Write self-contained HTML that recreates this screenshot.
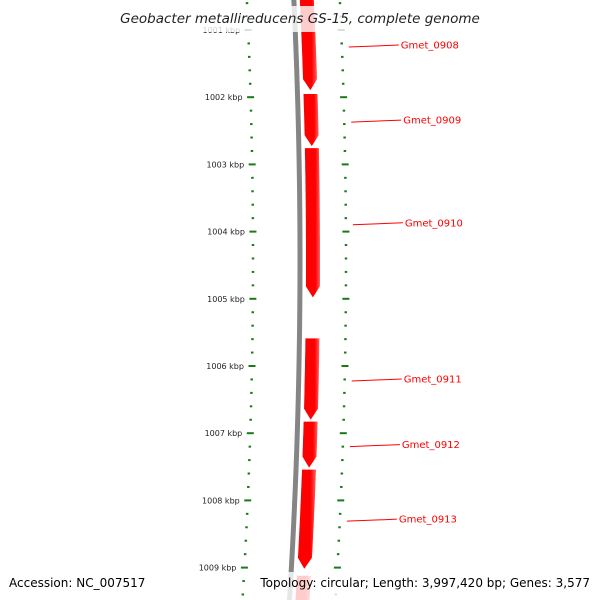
<!DOCTYPE html>
<html><head><meta charset="utf-8"><style>
html,body{margin:0;background:#fff;overflow:hidden;width:600px;height:600px}
svg{display:block}
text{font-family:"DejaVu Sans","Liberation Sans",sans-serif}
</style></head><body>
<svg id="chart" width="600" height="600" viewBox="0 0 600 600" xmlns="http://www.w3.org/2000/svg">
<defs>
<linearGradient id="rg" x1="0" x2="1" y1="0" y2="0"><stop offset="0" stop-color="#f00"/><stop offset="0.7" stop-color="#f00"/><stop offset="1" stop-color="#ff6060"/></linearGradient>
</defs>
<g id="ticks"></g>
<g id="track"></g>
<g id="genes"></g>
<rect x="115" y="6" width="370" height="26" fill="#fff" opacity="0.8"/>
<text x="300" y="23" text-anchor="middle" font-size="13.5" font-style="italic" fill="#222">Geobacter metallireducens GS-15, complete genome</text>
<rect x="5" y="572" width="140" height="28" fill="#fff" opacity="0.8"/>
<rect x="255" y="572" width="340" height="28" fill="#fff" opacity="0.8"/>
<text x="9" y="587" font-size="12" fill="#000">Accession: NC_007517</text>
<text x="590" y="587" text-anchor="end" font-size="12" fill="#000">Topology: circular; Length: 3,997,420 bp; Genes: 3,577</text>
</svg>
<script>
const majorTicks = [1000, 1001, 1002, 1003, 1004, 1005, 1006, 1007, 1008, 1009, 1010];
const geneNames = ["Gmet_0907","Gmet_0908","Gmet_0909","Gmet_0910","Gmet_0911","Gmet_0912","Gmet_0913","Gmet_0914"];
const geneStarts = [999.0, 1000.45, 1001.953, 1002.758, 1005.590, 1006.827, 1007.542, 1009.12];
const geneEnds   = [1000.0, 1001.894, 1002.728, 1004.979, 1006.797, 1007.512, 1009.017, 1010.5];
const showLabel  = [false, true, true, true, true, true, true, false];

const NS = "http://www.w3.org/2000/svg";
const yOf = k => 30 + (k - 1001) * 67.2;
const cx = y => 300 - (y - 260) * (y - 260) / 11000;
function mk(tag, attrs, parent){ const e=document.createElementNS(NS,tag); for(const k in attrs) e.setAttribute(k,attrs[k]); parent.appendChild(e); return e; }

const track = document.getElementById('track');
let d = "";
for (let y = -5; y <= 605; y += 5) d += (y === -5 ? "M" : "L") + cx(y).toFixed(2) + " " + y;
const bb = mk('path', {d: d, stroke: "#858585", "stroke-width": 5, fill: "none"}, track);



const tg = document.getElementById('ticks');
for (let i = 0; i < majorTicks.length - 1; i++) {
  for (let j = 0; j < 5; j++) {
    const k = majorTicks[i] + j * 0.2;
    const y = yOf(k);
    if (y < -5 || y > 605) continue;
    const c = cx(y);
    const w = j === 0 ? 7 : 2.5;
    const l = mk('rect', {x: c - 47 - w/2, y: y - 1, width: w, height: 2, fill: "#1a7a1a"}, tg);
    
    
    const r = mk('rect', {x: c + 46 - w/2, y: y - 1, width: w, height: 2, fill: "#1a7a1a"}, tg);
    
    
    if (j === 0) {
      const t = mk('text', {x: c - 55, y: y + 3, "text-anchor": "end", "font-size": 8, fill: "#222"}, tg);
      t.textContent = majorTicks[i] + " kbp";
      
      
    }
  }
}

const gg = document.getElementById('genes');
for (let i = 0; i < geneNames.length; i++) {
  const y0 = yOf(geneStarts[i]), y1 = yOf(geneEnds[i]);
  if (y1 < -5 || y0 > 605) continue;
  const head = Math.min(11, (y1 - y0) * 0.4);
  const yh = y1 - head;
  let pts = [];
  for (let y = y0; y < yh; y += 4) pts.push([cx(y) + 6, y]);
  pts.push([cx(yh) + 6, yh]);
  pts.push([cx(y1) + 13, y1]);
  pts.push([cx(yh) + 20, yh]);
  for (let y = yh; y > y0; y -= 4) pts.push([cx(y) + 20, y]);
  pts.push([cx(y0) + 20, y0]);
  const p = mk('polygon', {points: pts.map(q => q[0].toFixed(1) + "," + q[1].toFixed(1)).join(" "), fill: "url(#rg)"}, gg);
  
  
  if (showLabel[i]) {
    const ym = (Math.max(y0, 0) + y1) / 2;
    const lx0 = cx(ym) + 53, lx1 = cx(ym) + 103;
    const ln = mk('line', {x1: lx0, y1: ym + 2, x2: lx1, y2: ym, stroke: "#f00", "stroke-width": 1}, gg);
    
    
    const t = mk('text', {x: lx1 + 2, y: ym + 3.5, "font-size": 10, fill: "#f00"}, gg);
    t.textContent = geneNames[i];
    
    
  }
}
</script>
</body></html>
